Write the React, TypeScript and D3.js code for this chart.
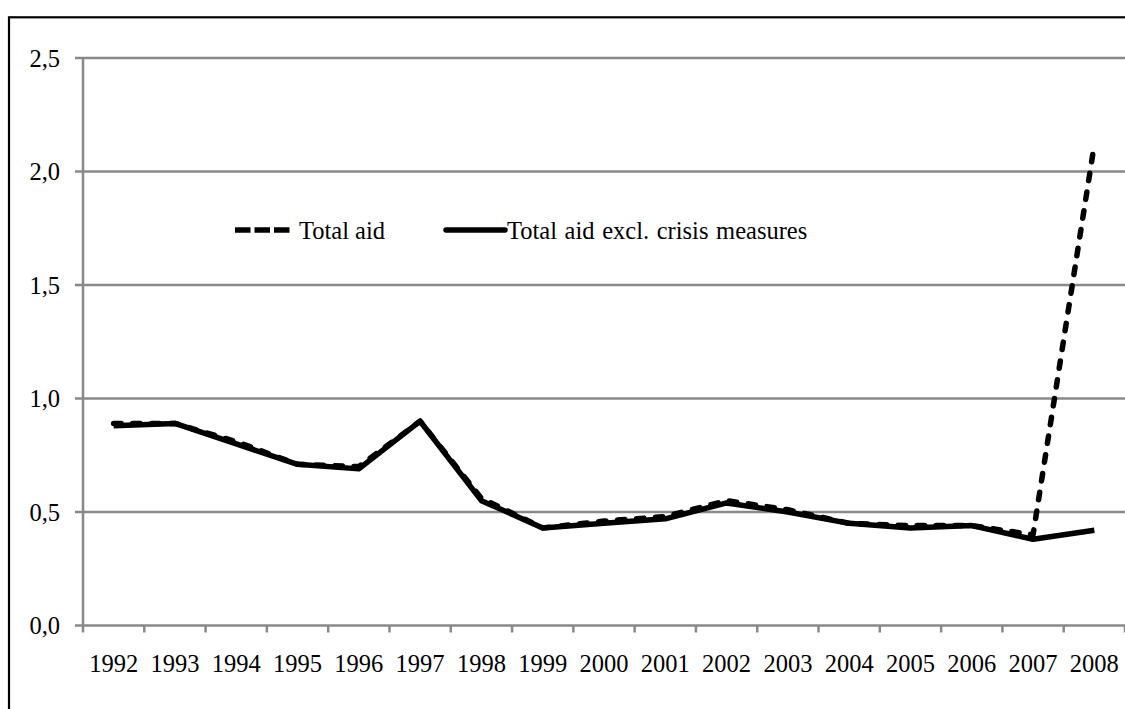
import React from "react";
import * as d3 from "d3";

const years = ["1992","1993","1994","1995","1996","1997","1998","1999","2000","2001","2002","2003","2004","2005","2006","2007","2008"];
const totalAid = [0.89, 0.89, 0.81, 0.71, 0.70, 0.90, 0.56, 0.43, 0.46, 0.48, 0.55, 0.51, 0.45, 0.44, 0.44, 0.40, 2.12];
const totalAidExcl = [0.88, 0.89, 0.80, 0.71, 0.69, 0.90, 0.55, 0.43, 0.45, 0.47, 0.54, 0.50, 0.45, 0.43, 0.44, 0.38, 0.42];
const yTicks = [0, 0.5, 1.0, 1.5, 2.0, 2.5];
const seriesNames = ["Total aid", "Total aid excl. crisis measures"];

const W = 1125, H = 709;
const left = 83, right = 1125, top = 58, bottom = 625.5;
const FONT = "'Liberation Serif', 'Times New Roman', serif";
const FS = 24.5;

export default function App() {
  const x = d3.scaleBand<string>().domain(years).range([left, right]).paddingInner(0).paddingOuter(0);
  const y = d3.scaleLinear().domain([0, 2.5]).range([bottom, top]);
  const cx = (d: string) => (x(d) as number) + x.bandwidth() / 2;
  const line = d3.line<number>().x((_, i) => cx(years[i])).y((v) => y(v));
  const grid = "#898989";
  const fmt = (v: number) => v.toFixed(1).replace(".", ",");
  const boundaries = years.map((d) => (x(d) as number) + x.bandwidth());

  return (
    <svg width={W} height={H} style={{ position: "absolute", left: 0, top: 0, background: "#fff" }}>
      <rect x={9} y={17.3} width={1130} height={710} fill="#fff" stroke="#000" strokeWidth={2.2} />
      {yTicks.map((t) => (
        <g key={t}>
          <line x1={left - 8} x2={right} y1={y(t)} y2={y(t)} stroke={grid} strokeWidth={2.5} />
          <text x={60} y={y(t)} dy="0.35em" textAnchor="end" fontFamily={FONT} fontSize={FS} fill="#000">{fmt(t)}</text>
        </g>
      ))}
      <line x1={left} x2={left} y1={top} y2={bottom + 7} stroke={grid} strokeWidth={2.5} />
      {boundaries.map((b, i) => (
        <line key={i} x1={b} x2={b} y1={bottom} y2={bottom + 7} stroke={grid} strokeWidth={2.5} />
      ))}
      {years.map((d) => (
        <text key={d} x={cx(d)} y={663} dy="0.35em" textAnchor="middle" fontFamily={FONT} fontSize={FS} fill="#000">{d}</text>
      ))}
      <path d={line(totalAidExcl) || ""} fill="none" stroke="#000" strokeWidth={5.5} strokeLinejoin="round" />
      <path d={line(totalAid) || ""} fill="none" stroke="#000" strokeWidth={5.5} strokeDasharray="7.5 11.5" strokeLinecap="round" strokeLinejoin="round" />
      <g>
        <line x1={235} x2={290} y1={230} y2={230} stroke="#000" strokeWidth={5.5} strokeDasharray="15.5 4" strokeLinecap="butt" />
        <text x={299} y={230} dy="0.35em" fontFamily={FONT} fontSize={FS} fill="#000">{seriesNames[0]}</text>
        <line x1={446} x2={505} y1={230} y2={230} stroke="#000" strokeWidth={5.5} strokeLinecap="round" />
        <text x={507} y={230} dy="0.35em" fontFamily={FONT} fontSize={FS} fill="#000" wordSpacing={1.5}>{seriesNames[1]}</text>
      </g>
    </svg>
  );
}
